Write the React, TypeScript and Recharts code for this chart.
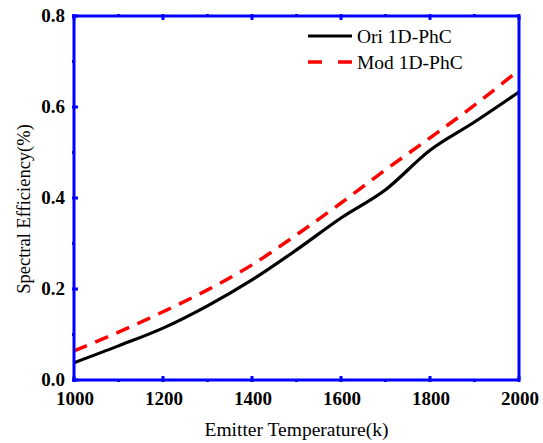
import React from "react";
import { LineChart, Line, XAxis, YAxis } from "recharts";

const temperatures = [1000, 1100, 1200, 1300, 1400, 1500, 1600, 1700, 1800, 1900, 2000];
const oriEfficiency = [0.038, 0.075, 0.114, 0.163, 0.22, 0.286, 0.356, 0.418, 0.505, 0.567, 0.633];
const modEfficiency = [0.064, 0.105, 0.15, 0.198, 0.253, 0.319, 0.389, 0.462, 0.532, 0.604, 0.681];
const xTicks = [1000, 1100, 1200, 1300, 1400, 1500, 1600, 1700, 1800, 1900, 2000];
const yTicks = [0, 0.1, 0.2, 0.3, 0.4, 0.5, 0.6, 0.7, 0.8];
const seriesNames = ["Ori 1D-PhC", "Mod 1D-PhC"];
const xTitle = "Emitter Temperature(k)";
const yTitle = "Spectral Efficiency(%)";

const data = temperatures.map((t, i) => ({ t, ori: oriEfficiency[i], mod: modEfficiency[i] }));

const BLUE = "#0000ff";
const FONT = "'Liberation Serif', 'Times New Roman', Tinos, serif";

const isMajorX = (v: number) => Math.round(v) % 200 === 0;
const isMajorY = (v: number) => Math.round(v * 10) % 2 === 0;

const BottomTick = (props: any) => {
  const { x, y, payload } = props;
  const major = isMajorX(payload.value);
  return (
    <g>
      <line x1={x} x2={x} y1={y} y2={y - (major ? 6 : 3)} stroke={BLUE} strokeWidth={3} />
      {major && (
        <text x={x + 1} y={y + 23} textAnchor="middle" style={{ fontFamily: FONT, fontWeight: "bold", fontSize: 19 }} fill="#000">
          {payload.value}
        </text>
      )}
    </g>
  );
};
const TopTick = (props: any) => {
  const { x, y, payload } = props;
  const major = isMajorX(payload.value);
  return <line x1={x} x2={x} y1={y} y2={y + (major ? 6 : 3)} stroke={BLUE} strokeWidth={3} />;
};
const LeftTick = (props: any) => {
  const { x, y, payload } = props;
  const major = isMajorY(payload.value);
  return (
    <g>
      <line x1={x} x2={x + (major ? 6 : 3)} y1={y} y2={y} stroke={BLUE} strokeWidth={3} />
      {major && (
        <text x={x - 7} y={y + 6} textAnchor="end" style={{ fontFamily: FONT, fontWeight: "bold", fontSize: 19 }} fill="#000">
          {payload.value.toFixed(1)}
        </text>
      )}
    </g>
  );
};
const RightTick = (props: any) => {
  const { x, y, payload } = props;
  const major = isMajorY(payload.value);
  return <line x1={x} x2={x - (major ? 6 : 3)} y1={y} y2={y} stroke={BLUE} strokeWidth={3} />;
};

const YTitle = (props: any) => {
  const vb = props.viewBox || {};
  const cy = (vb.y || 0) + (vb.height || 0) / 2 + 11;
  const cx = 30;
  return (
    <text
      x={cx}
      y={cy}
      transform={`rotate(-90 ${cx} ${cy})`}
      textAnchor="middle"
      style={{ fontFamily: FONT, fontSize: 18.5 }}
      fill="#000"
    >
      {yTitle}
    </text>
  );
};

export default function App() {
  return (
    <div style={{ position: "absolute", left: 0, top: 0, width: 543, height: 443, background: "#fff" }}>
      <LineChart width={543} height={443} data={data} margin={{ top: 15, right: 23, left: 0, bottom: 0 }}>
        <XAxis
          dataKey="t"
          type="number"
          domain={[1000, 2000]}
          ticks={xTicks}
          xAxisId="bottom"
          height={63}
          axisLine={{ stroke: BLUE, strokeWidth: 3 }}
          tickLine={false}
          tickSize={0}
          tick={<BottomTick />}
          interval={0}
          label={{ value: xTitle, position: "insideBottom", offset: 7, style: { fontFamily: FONT, fontSize: 19.5, fill: "#000" } }}
        />
        <XAxis
          dataKey="t"
          type="number"
          domain={[1000, 2000]}
          ticks={xTicks}
          xAxisId="top"
          orientation="top"
          height={1}
          axisLine={{ stroke: BLUE, strokeWidth: 3 }}
          tickLine={false}
          tickSize={0}
          tick={<TopTick />}
          interval={0}
        />
        <YAxis
          type="number"
          domain={[0, 0.8]}
          ticks={yTicks}
          yAxisId="left"
          width={74}
          axisLine={{ stroke: BLUE, strokeWidth: 3 }}
          tickLine={false}
          tickSize={0}
          tick={<LeftTick />}
          interval={0}
          label={<YTitle />}
        />
        <YAxis
          type="number"
          domain={[0, 0.8]}
          ticks={yTicks}
          yAxisId="right"
          orientation="right"
          width={1}
          axisLine={{ stroke: BLUE, strokeWidth: 3 }}
          tickLine={false}
          tickSize={0}
          tick={<RightTick />}
          interval={0}
        />
        <Line
          xAxisId="bottom"
          yAxisId="left"
          type="monotone"
          dataKey="ori"
          stroke="#000"
          strokeWidth={3.2}
          dot={false}
          isAnimationActive={false}
        />
        <Line
          xAxisId="bottom"
          yAxisId="left"
          type="monotone"
          dataKey="mod"
          stroke="#ff0000"
          strokeWidth={3.5}
          strokeDasharray="14 9"
          dot={false}
          isAnimationActive={false}
        />
      </LineChart>
      <svg width={210} height={60} style={{ position: "absolute", left: 306, top: 24 }}>
        <line x1={2} x2={46} y1={12} y2={12} stroke="#000" strokeWidth={3.2} />
        <text x={51} y={19} style={{ fontFamily: FONT, fontSize: 19.5 }} fill="#000">{seriesNames[0]}</text>
        <line x1={2} x2={46} y1={38} y2={38} stroke="#ff0000" strokeWidth={3.5} strokeDasharray="14 16" />
        <text x={51} y={45} style={{ fontFamily: FONT, fontSize: 19.5 }} fill="#000">{seriesNames[1]}</text>
      </svg>
    </div>
  );
}
